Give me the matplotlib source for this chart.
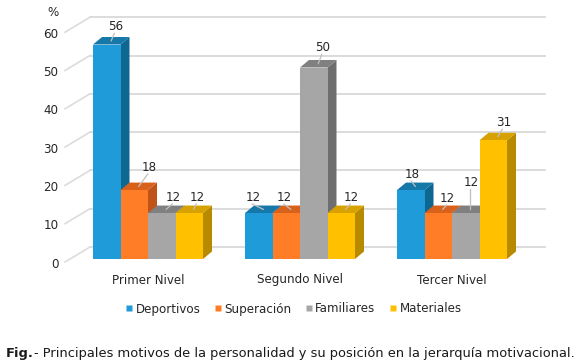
import matplotlib
matplotlib.use("Agg")
import matplotlib.pyplot as plt
from matplotlib.patches import Polygon
from matplotlib.lines import Line2D

# ---- data
CATEGORIES = ["Primer Nivel", "Segundo Nivel", "Tercer Nivel"]
SERIES = ["Deportivos", "Superación", "Familiares", "Materiales"]
DEPORTIVOS = [56, 12, 18]
SUPERACION = [18, 12, 12]
FAMILIARES = [12, 50, 12]
MATERIALES = [12, 12, 31]
Y_TICKS = [0, 10, 20, 30, 40, 50, 60]

# ---- styling (front, top, side) per series
FACES = [("#1F9BDA", "#1678A9", "#0E6791"),
         ("#FF7D26", "#D8621C", "#C05418"),
         ("#A6A6A6", "#808080", "#6E6E6E"),
         ("#FFC000", "#D7A200", "#B88A00")]
# data-label nudges in pixels (dx, dy from front-top centre), as placed
LABEL_DX = [[8.5, 14.5, 11.5, 8],
            [-5.5, -1.5, 9, 10],
            [1.5, 9.5, 5.5, 10]]
LABEL_DY = [[-18, -23, -16, -16],
            [-16, -16, -20, -16],
            [-16, -15, -31, -18]]

W, H = 578, 363
PX_PER_CAT = 152.0      # pixels between group centres
PX_PER_UNIT = 3.83      # pixels per percentage point
X0_PX, Y0_PX = 148.0, 259.0   # first group centre / bar floor
BAR_W = 27.5 / PX_PER_CAT
DEPTH_X = 9 / PX_PER_CAT
DEPTH_Y = 7.5 / PX_PER_UNIT
WALL_Y = 12 / PX_PER_UNIT
FS = 8.6


def px_x(px):
    return (px - X0_PX) / PX_PER_CAT


def px_y(py):
    return (Y0_PX - py) / PX_PER_UNIT


plt.rcParams["font.family"] = "DejaVu Sans"
fig = plt.figure(figsize=(W / 100, H / 100), dpi=100)
ax = fig.add_axes([0, 0, 1, 1])
ax.set_xlim(px_x(0), px_x(W))
ax.set_ylim(px_y(H), px_y(0))
ax.axis("off")

GRID = "#DCDCDC"
TXT = "#262626"

# back wall grid with the short perspective stubs on the left
for v in Y_TICKS:
    yb = v + WALL_Y
    ax.plot([px_x(90), px_x(545)], [yb, yb], color=GRID, lw=1.4, zorder=1)
    ax.plot([px_x(65), px_x(90)], [yb - 15 / PX_PER_UNIT, yb],
            color=GRID, lw=1.2, zorder=1)
    ax.text(px_x(58.5), yb - 17 / PX_PER_UNIT, str(v), ha="right",
            va="center", fontsize=FS, color=TXT)
ax.text(px_x(53), px_y(12), "%", ha="center", va="center", fontsize=FS,
        color=TXT)

values = [DEPORTIVOS, SUPERACION, FAMILIARES, MATERIALES]
z = 2
for g, cat in enumerate(CATEGORIES):
    for s in range(len(SERIES)):
        v = values[s][g]
        x0 = g + (s - 2) * BAR_W
        x1 = x0 + BAR_W
        front, top, side = FACES[s]
        ax.add_patch(Polygon([(x1, 0), (x1 + DEPTH_X, DEPTH_Y),
                              (x1 + DEPTH_X, v + DEPTH_Y), (x1, v)],
                             closed=True, fc=side, ec="none", zorder=z))
        ax.add_patch(Polygon([(x0, v), (x1, v), (x1 + DEPTH_X, v + DEPTH_Y),
                              (x0 + DEPTH_X, v + DEPTH_Y)],
                             closed=True, fc=top, ec="none", zorder=z))
        ax.add_patch(Polygon([(x0, 0), (x1, 0), (x1, v), (x0, v)],
                             closed=True, fc=front, ec="none", zorder=z))
        z += 1
        # data label with leader line
        cx = (x0 + x1) / 2 + DEPTH_X / 2
        cy = v + DEPTH_Y / 2
        lx = (x0 + x1) / 2 + LABEL_DX[g][s] / PX_PER_CAT
        ly = v - LABEL_DY[g][s] / PX_PER_UNIT
        ax.plot([cx, lx - 1.0 / PX_PER_CAT], [cy, ly - 7 / PX_PER_UNIT],
                color="#BFBFBF", lw=0.9, zorder=40)
        ax.text(lx, ly, str(v), ha="center", va="center", fontsize=FS,
                color=TXT, zorder=41)
    ax.text(g, px_y(280), cat, ha="center", va="center", fontsize=FS,
            color=TXT)

handles = [Line2D([], [], marker="s", ls="", ms=4.8, mec="none",
                  mfc=FACES[i][0], label=SERIES[i]) for i in range(4)]
fig.legend(handles=handles, loc="center", ncol=4, frameon=False,
           bbox_to_anchor=(292 / W, 1 - 309 / H), fontsize=FS,
           handletextpad=0.0, columnspacing=0.9, handlelength=1.1,
           labelcolor=TXT)

t1 = fig.text(6 / W, 1 - 353 / H, "Fig.", fontsize=9.35, fontweight="bold",
              va="center", ha="left", color="#1a1a1a")
ax.annotate("- Principales motivos de la personalidad y su posición en la "
            "jerarquía motivacional.", xy=(1, 0.5), xycoords=t1,
            va="center", ha="left", fontsize=9.35, color="#1a1a1a")

fig.savefig("out.png", dpi=100)
